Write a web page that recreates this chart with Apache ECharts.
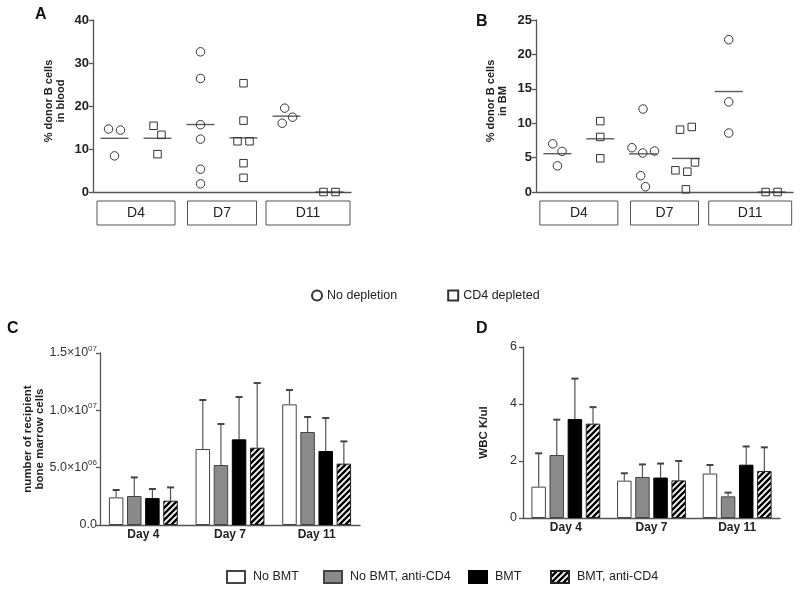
<!DOCTYPE html>
<html><head><meta charset="utf-8">
<script src="https://cdn.jsdelivr.net/npm/echarts@6/dist/echarts.min.js"></script>
<style>html,body{margin:0;padding:0;background:#fff}#c{width:800px;height:590px}</style>
</head><body><div id="c"></div>
<script>
// ---------- data: panels A & B (dot plots) ----------
const days = ['D4', 'D7', 'D11'];
const groupSlots = ['D4 nd', 'D4 cd', 'D7 nd', 'D7 cd', 'D11 nd', 'D11 cd'];
const scatterNames = ['No depletion', 'CD4 depleted'];
const bloodNoDepletion = [[14.65, 14.4, 8.4], [32.6, 26.4, 15.65, 12.3, 5.3, 1.9], [19.5, 17.4, 16.0]];
const bloodCD4 = [[15.4, 13.3, 8.8], [25.3, 16.6, 11.8, 11.8, 6.7, 3.3], [0, 0]];
const bmNoDepletion = [[7.0, 5.9, 3.8], [12.06, 5.67, 5.96, 6.44, 2.37, 0.77], [22.14, 13.1, 8.57]];
const bmCD4 = [[10.3, 8.0, 4.9], [9.06, 9.45, 2.95, 4.3, 3.15, 0.39], [0, 0]];
const bloodTicks = [0, 40, 10];
const bmTicks = [0, 25, 5];

// ---------- data: panels C & D (bar charts) ----------
const barDays = ['Day 4', 'Day 7', 'Day 11'];
const barGroups = ['No BMT', 'No BMT, anti-CD4', 'BMT', 'BMT, anti-CD4'];
const bmCellsMean = [[2.41e6, 6.63e6, 10.52e6], [2.53e6, 5.23e6, 8.11e6], [2.35e6, 7.47e6, 6.45e6], [2.12e6, 6.74e6, 5.35e6]];
const bmCellsSD = [[0.64e6, 4.27e6, 1.25e6], [1.62e6, 3.58e6, 1.31e6], [0.79e6, 3.69e6, 2.88e6], [1.16e6, 5.64e6, 1.94e6]];
const wbcMean = [[1.10, 1.31, 1.56], [2.21, 1.44, 0.76], [3.47, 1.42, 1.87], [3.31, 1.32, 1.65]];
const wbcSD = [[1.17, 0.26, 0.30], [1.24, 0.44, 0.13], [1.42, 0.49, 0.64], [0.58, 0.68, 0.83]];

// ---------- layout / style ----------
const FONT = '"Liberation Sans", Arial, sans-serif';
const gridA = {left: 93, top: 20, width: 258, height: 172};
const gridB = {left: 536, top: 20, width: 257, height: 172};
const gridC = {left: 100, top: 353, width: 260, height: 172};
const gridD = {left: 523, top: 347, width: 257, height: 171};
const AX = '#555';
const BAR_W = 14.5, BAR_GAP = 0.25;

// hatch pattern
const hatch = document.createElement('canvas');
hatch.width = 6; hatch.height = 6;
(function () {
  const c = hatch.getContext('2d');
  c.fillStyle = '#fff'; c.fillRect(0, 0, 6, 6);
  c.strokeStyle = '#000'; c.lineWidth = 2.4;
  c.beginPath();
  c.moveTo(0, 6); c.lineTo(6, 0);
  c.moveTo(-1, 1); c.lineTo(1, -1);
  c.moveTo(5, 7); c.lineTo(7, 5);
  c.stroke();
})();
const barStyles = [
  {color: '#fff', borderColor: '#444', borderWidth: 1},
  {color: '#8a8a8a', borderColor: '#444', borderWidth: 1},
  {color: '#000', borderColor: '#000', borderWidth: 1},
  {color: {image: hatch, repeat: 'repeat'}, borderColor: '#222', borderWidth: 1}
];

// beeswarm offsets (pixels) for a group of points
function swarm(vals, ppu, D) {
  const ys = vals.map(v => v * ppu), xs = [];
  for (let i = 0; i < ys.length; i++) {
    const cands = [0];
    for (let j = 0; j < i; j++) {
      const dy = Math.abs(ys[i] - ys[j]);
      if (dy < D) { const d = Math.sqrt(D * D - dy * dy); cands.push(xs[j] + d, xs[j] - d); }
    }
    const ok = cands.filter(c => {
      for (let j = 0; j < i; j++) { const dx = c - xs[j], dy = ys[i] - ys[j]; if (dx * dx + dy * dy < D * D - 0.01) return false; }
      return true;
    });
    ok.sort((a, b) => (Math.abs(Math.abs(a) - Math.abs(b)) > 1e-6) ? Math.abs(a) - Math.abs(b) : b - a);
    xs.push(ok[0]);
  }
  const par = ys.map((_, i) => i);
  const find = i => par[i] === i ? i : (par[i] = find(par[i]));
  for (let i = 0; i < ys.length; i++) for (let j = i + 1; j < ys.length; j++)
    if (Math.abs(ys[i] - ys[j]) < D) par[find(i)] = find(j);
  const sums = {};
  ys.forEach((_, i) => { const r = find(i); sums[r] = sums[r] || [0, 0]; sums[r][0] += xs[i]; sums[r][1]++; });
  return xs.map((x, i) => { const s = sums[find(i)]; return x - s[0] / s[1]; });
}

function dotSeries(groups, slotShift, name, symbol, size, xi, yi, ppu) {
  const data = [];
  groups.forEach((vals, d) => {
    const off = swarm(vals, ppu, 12);
    vals.forEach((v, k) => data.push({value: [d * 2 + slotShift, v], symbolOffset: [off[k], 0]}));
  });
  return {
    type: 'scatter', name, xAxisIndex: xi, yAxisIndex: yi, symbol, symbolSize: size,
    itemStyle: {color: 'rgba(255,255,255,0)', borderColor: '#333', borderWidth: 1, opacity: 1},
    data, z: 3
  };
}
function meanSeries(groupsA, groupsB, xi, yi) {
  const data = [];
  days.forEach((_, d) => {
    [groupsA[d], groupsB[d]].forEach((vals, s) => {
      const m = vals.reduce((a, b) => a + b, 0) / vals.length;
      data.push([d * 2 + s, m]);
    });
  });
  return {type: 'scatter', name: 'mean', xAxisIndex: xi, yAxisIndex: yi, symbol: 'rect',
    symbolSize: [28, 1.4], itemStyle: {color: '#333'}, data, z: 4, silent: true};
}

function slotAxis(g) {
  return {type: 'category', gridIndex: g, data: groupSlots, position: 'bottom',
    axisLine: {lineStyle: {color: AX, width: 1.3}}, axisTick: {show: false}, axisLabel: {show: false}};
}
function boxAxis(g, widths) {
  const rich = {};
  widths.forEach((w, i) => {
    rich['b' + i] = {width: w, height: 24, lineHeight: 24, align: 'center', borderColor: '#555', borderWidth: 1,
      fontSize: 14, color: '#222', fontFamily: FONT};
  });
  return {type: 'category', gridIndex: g, data: days, position: 'bottom',
    axisLine: {show: false}, axisTick: {show: false},
    axisLabel: {margin: 9, formatter: (v, i) => `{b${i}|${v}}`, rich}};
}
function dotY(g, ticks, name, gap) {
  return {type: 'value', gridIndex: g, min: ticks[0], max: ticks[1], interval: ticks[2],
    splitLine: {show: false},
    axisLine: {show: true, lineStyle: {color: AX, width: 1.3}},
    axisTick: {show: true, length: 4, lineStyle: {color: AX, width: 1.3}},
    axisLabel: {fontSize: 13, fontWeight: 'bold', color: '#222', margin: 4, fontFamily: FONT},
    name, nameLocation: 'middle', nameGap: gap, nameRotate: 90,
    nameTextStyle: {fontSize: 11, fontWeight: 'bold', color: '#222', lineHeight: 12, fontFamily: FONT, padding: [0, 0, 0, 10]}};
}
function dayAxis(g) {
  return {type: 'category', gridIndex: g, data: barDays,
    axisLine: {lineStyle: {color: AX, width: 1.3}}, axisTick: {show: false},
    axisLabel: {fontSize: 12, fontWeight: 'bold', color: '#222', margin: 4, fontFamily: FONT}};
}

function barSeries(means, xi, yi) {
  return means.map((vals, i) => ({
    type: 'bar', name: barGroups[i], xAxisIndex: xi, yAxisIndex: yi,
    barWidth: BAR_W, barGap: (BAR_GAP * 100) + '%', itemStyle: barStyles[i], data: vals, z: 2
  }));
}
function errSeries(means, sds, xi, yi) {
  const data = [];
  means.forEach((vals, i) => vals.forEach((m, j) => data.push([j, m, sds[i][j], i])));
  const step = BAR_W * (1 + BAR_GAP);
  return {
    type: 'custom', name: 'err', xAxisIndex: xi, yAxisIndex: yi, silent: true, z: 1,
    renderItem(params, api) {
      const j = api.value(0), m = api.value(1), sd = api.value(2), i = api.value(3);
      const base = api.coord([j, m]), top = api.coord([j, m + sd]);
      const x = base[0] + (i - (barGroups.length - 1) / 2) * step;
      return {type: 'group', children: [
        {type: 'line', shape: {x1: x, y1: base[1], x2: x, y2: top[1]}, style: {stroke: '#555', lineWidth: 1.2}},
        {type: 'line', shape: {x1: x - 3.5, y1: top[1], x2: x + 3.5, y2: top[1]}, style: {stroke: '#444', lineWidth: 2}}
      ]};
    },
    data
  };
}

const sciFmt = v => {
  if (v === 0) return '{n|0.0}';
  const e = Math.floor(Math.log10(v) + 1e-9);
  const m = (v / Math.pow(10, e)).toFixed(1);
  return `{n|${m}×10}{sup|${String(e).padStart(2, '0')}}`;
};

const chart = echarts.init(document.getElementById('c'), null, {renderer: 'canvas'});
const panelLetter = (t, left, top) => ({text: t, left, top, textStyle: {fontSize: 16, fontWeight: 'bold', color: '#111', fontFamily: FONT}});

const bottomLegendLeft = [221, 318, 463, 545];
chart.setOption({
  animation: false,
  textStyle: {fontFamily: FONT},
  title: [panelLetter('A', 30, 2), panelLetter('B', 471, 9), panelLetter('C', 2, 316), panelLetter('D', 471, 316)],
  grid: [gridA, gridB, gridC, gridD],
  xAxis: [
    slotAxis(0), boxAxis(0, [78, 69, 84]),
    slotAxis(1), boxAxis(1, [78, 68, 83]),
    dayAxis(2), dayAxis(3)
  ],
  yAxis: [
    dotY(0, bloodTicks, '% donor B cells\nin blood', 26),
    dotY(1, bmTicks, '% donor B cells\nin BM', 27),
    {type: 'value', gridIndex: 2, min: 0, max: 1.5e7, interval: 5e6, splitLine: {show: false},
      axisLine: {show: true, lineStyle: {color: AX, width: 1.3}},
      axisTick: {show: true, length: 4, lineStyle: {color: AX, width: 1.3}},
      axisLabel: {formatter: sciFmt, margin: 3, color: '#333',
        rich: {n: {fontSize: 12.5, lineHeight: 17, color: '#333', fontFamily: FONT},
               sup: {fontSize: 8, lineHeight: 9, verticalAlign: 'top', color: '#333', fontFamily: FONT}}},
      name: 'number of recipient\nbone marrow cells', nameLocation: 'middle', nameGap: 53, nameRotate: 90,
      nameTextStyle: {fontSize: 11.5, fontWeight: 'bold', color: '#222', lineHeight: 12, fontFamily: FONT}},
    {type: 'value', gridIndex: 3, min: 0, max: 6, interval: 2, splitLine: {show: false},
      axisLine: {show: true, lineStyle: {color: AX, width: 1.3}},
      axisTick: {show: true, length: 4, lineStyle: {color: AX, width: 1.3}},
      axisLabel: {fontSize: 12.5, color: '#333', margin: 6},
      name: 'WBC K/ul', nameLocation: 'middle', nameGap: 33, nameRotate: 90,
      nameTextStyle: {fontSize: 11.5, fontWeight: 'bold', color: '#222', fontFamily: FONT}}
  ],
  legend: [
    {data: scatterNames, left: 306, top: 284, itemGap: 50, itemWidth: 10, itemHeight: 10,
      textStyle: {fontSize: 12.5, color: '#222', fontFamily: FONT}, selectedMode: false}
  ].concat(barGroups.map((n, i) => ({
    data: [{name: n, icon: 'rect'}], left: bottomLegendLeft[i], top: 565, itemWidth: 18, itemHeight: 12,
    textStyle: {fontSize: 12.5, color: '#222', fontFamily: FONT, padding: [0, 0, 0, 3]}, selectedMode: false
  }))),
  series: [
    dotSeries(bloodNoDepletion, 0, scatterNames[0], 'circle', 8.5, 0, 0, gridA.height / (bloodTicks[1] - bloodTicks[0])),
    dotSeries(bloodCD4, 1, scatterNames[1], 'rect', 7.5, 0, 0, gridA.height / (bloodTicks[1] - bloodTicks[0])),
    meanSeries(bloodNoDepletion, bloodCD4, 0, 0),
    dotSeries(bmNoDepletion, 0, scatterNames[0], 'circle', 8.5, 2, 1, gridB.height / (bmTicks[1] - bmTicks[0])),
    dotSeries(bmCD4, 1, scatterNames[1], 'rect', 7.5, 2, 1, gridB.height / (bmTicks[1] - bmTicks[0])),
    meanSeries(bmNoDepletion, bmCD4, 2, 1)
  ].concat(barSeries(bmCellsMean, 4, 2), [errSeries(bmCellsMean, bmCellsSD, 4, 2)],
           barSeries(wbcMean, 5, 3), [errSeries(wbcMean, wbcSD, 5, 3)])
});
</script>
</body></html>
